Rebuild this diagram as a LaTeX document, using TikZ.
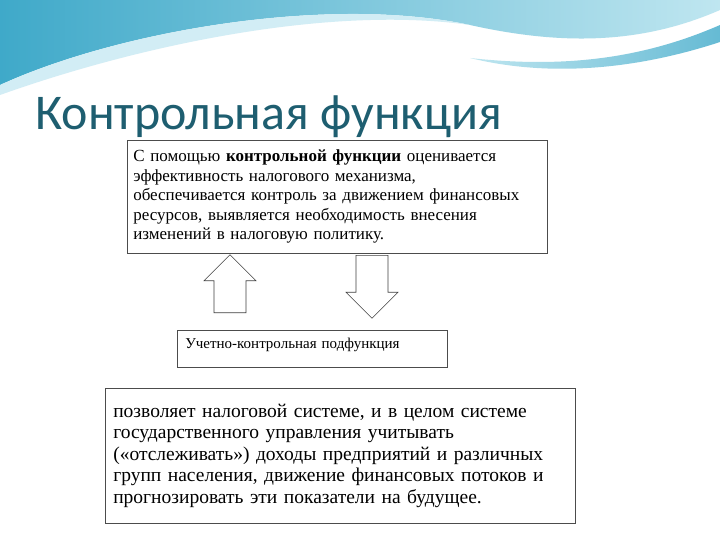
\documentclass[tikz,border=0pt]{standalone}
\usepackage{fontspec}
\setmainfont{Liberation Serif}
\newfontfamily\titlefont{Carlito}
\usetikzlibrary{positioning,shapes.arrows}
\definecolor{titleteal}{HTML}{1E5E70}
\definecolor{wavedark}{HTML}{3FA9C9}
\definecolor{wavelight}{HTML}{BFE6F0}
\tikzset{
	txtbox/.style={draw=black!70,line width=0.6pt,fill=white,align=left,inner sep=0pt,anchor=north west},
	fatarrow/.style={single arrow,draw=black!75,line width=0.6pt,fill=white,minimum width=52pt,single arrow head indent=0pt,inner xsep=0pt,inner ysep=11pt,single arrow tip angle=90,anchor=tail}}
\begin{document}
\begin{tikzpicture}[x=1pt,y=-1pt]
	\useasboundingbox (0,0) rectangle (720,540);
	\fill[white] (0,0) rectangle (720,540);
	% header waves
	\shade[left color=wavedark,right color=wavelight] (0,0) -- (720,0) -- (720,10)
		.. controls (640,45) and (560,45) .. (470,25)
		.. controls (330,-5) and (120,30) .. (0,85) -- cycle;
	\shade[left color=wavelight,right color=wavedark!80] (720,25) .. controls (640,60) and (560,68) .. (470,58)
		.. controls (560,80) and (650,65) .. (720,42) -- cycle;
	\fill[wavelight!70] (0,85) .. controls (120,30) and (330,-5) .. (470,25)
		.. controls (330,5) and (140,45) .. (0,95) -- cycle;
	% title
	\node (title) at (35,130) [anchor=base west,text=titleteal,font=\titlefont\fontsize{50}{54}\selectfont,inner sep=0pt] {Контрольная функция};
	% boxes
	\node (ctrl) at (127,140) [txtbox,minimum width=420pt,minimum height=113pt,text width=408pt,font=\fontsize{17}{19.5}\selectfont,inner xsep=6pt,inner ysep=7pt] {С помощью \textbf{контрольной функции} оценивается\\эффективность налогового механизма,\\обеспечивается контроль за движением финансовых\\ресурсов, выявляется необходимость внесения\\изменений в налоговую политику.};
	\node (sub) at (177,330) [txtbox,minimum width=270pt,text width=254pt,font=\fontsize{15}{17}\selectfont,inner xsep=8pt,inner ysep=0pt,text depth=19pt,text height=18pt] {Учетно-контрольная подфункция};
	\node (desc) at (105,388) [txtbox,minimum width=470pt,minimum height=135pt,text width=454pt,font=\fontsize{19.5}{21.5}\selectfont,inner xsep=8pt,inner ysep=9pt] {позволяет налоговой системе, и в целом системе\\государственного управления учитывать\\(«отслеживать») доходы предприятий и различных\\групп населения, движение финансовых потоков и\\прогнозировать эти показатели на будущее.};
	% arrows
	\node (up) at (230,313) [fatarrow,rotate=90,minimum height=58pt] {};
	\node (down) at (372,255) [fatarrow,rotate=-90,minimum height=63pt] {};
\end{tikzpicture}
\end{document}
